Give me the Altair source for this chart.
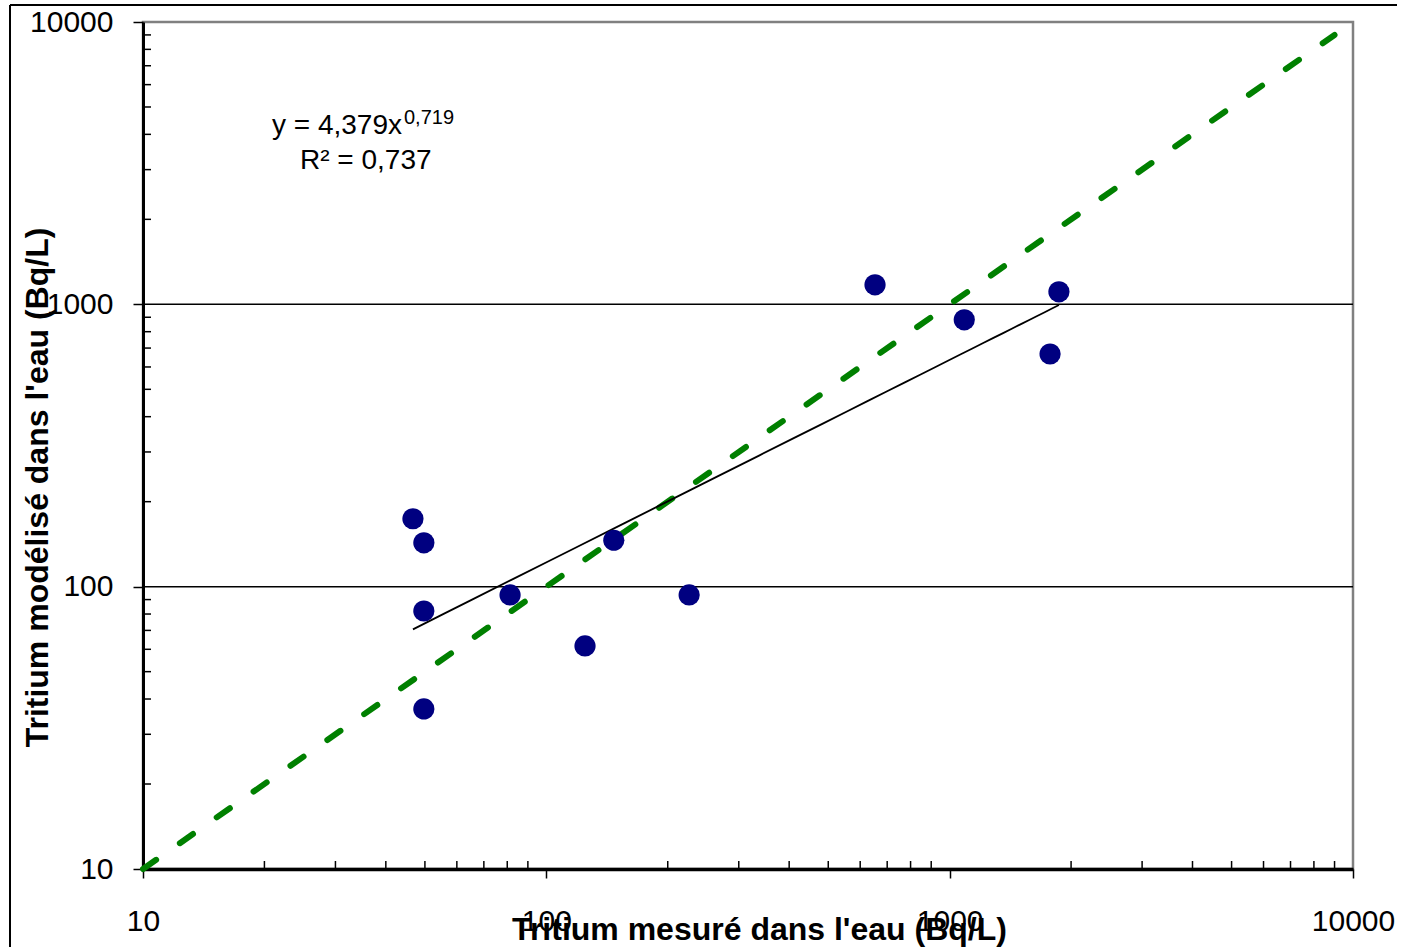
import altair as alt
import pandas as pd

# ---- data ----
measured = [46.7, 49.7, 49.7, 49.7, 81.3, 124.7, 147, 226, 653, 1087, 1866, 1774]
modeled = [174, 143, 82, 36.9, 93.5, 61.7, 146, 93.5, 1172, 881, 1107, 667]
one_to_one = [10, 9000]
grid_values = [100, 1000]
major_ticks = [10, 100, 1000, 10000]
minor_ticks = [20, 30, 40, 50, 60, 70, 80, 90,
               200, 300, 400, 500, 600, 700, 800, 900,
               2000, 3000, 4000, 5000, 6000, 7000, 8000, 9000]
equation_main = "y = 4,379x"
equation_exp = "0,719"
r2_text = "R² = 0,737"

W, H = 1210, 847
FONT = "Liberation Sans"

pts = pd.DataFrame({"measured": measured, "modeled": modeled})
diag = pd.DataFrame({"v": one_to_one})
grid = pd.DataFrame({"g": grid_values})
minor = pd.DataFrame({"m": minor_ticks})
single = pd.DataFrame({"one": [1]})

xscale = alt.Scale(type="log", domain=[10, 10000], nice=False)
yscale = alt.Scale(type="log", domain=[10, 10000], nice=False)

xaxis = alt.Axis(values=major_ticks, format="d", title="Tritium mesuré dans l'eau (Bq/L)",
                 grid=False, tickSize=9, tickWidth=1.5, tickColor="black",
                 domainColor="black", domainWidth=3.5, labelPadding=28,
                 labelFontSize=30, labelFont=FONT, labelColor="black",
                 labelOverlap=False, labelFlush=False,
                 titleFont=FONT, titleFontSize=32, titleFontWeight="bold", titleColor="black",
                 titleBaseline="alphabetic", titleY=70, titleX=616, titleAlign="center")
yaxis = alt.Axis(values=major_ticks, format="d", title="Tritium modélisé dans l'eau (Bq/L)",
                 grid=False, tickSize=10, tickWidth=1.5, tickColor="black",
                 domainColor="black", domainWidth=3, labelPadding=20,
                 labelFontSize=30, labelFont=FONT, labelColor="black",
                 labelOverlap=False, labelFlush=False,
                 titleFont=FONT, titleFontSize=32, titleFontWeight="bold", titleColor="black",
                 titleX=-106, titleY=465, titleAlign="center", titleBaseline="middle")


def X(field):
    return alt.X(f"{field}:Q", scale=xscale, axis=xaxis)


def Y(field):
    return alt.Y(f"{field}:Q", scale=yscale, axis=yaxis)


grid_layer = alt.Chart(grid).mark_rule(color="black", strokeWidth=1.5).encode(
    y=Y("g"), x=alt.value(0), x2=alt.value(W))

minor_x = alt.Chart(minor).mark_rule(color="black", strokeWidth=1.5).encode(
    x=X("m"), y=alt.value(H - 8), y2=alt.value(H))
minor_y = alt.Chart(minor).mark_rule(color="black", strokeWidth=1.5).encode(
    y=Y("m"), x=alt.value(0), x2=alt.value(8))

diag_layer = alt.Chart(diag).mark_line(color="#008000", strokeWidth=6, strokeDash=[16, 29],
                                      strokeCap="round").encode(x=X("v"), y=Y("v"))

reg_layer = alt.Chart(pts).transform_regression(
    "measured", "modeled", method="pow").mark_line(color="black", strokeWidth=1.8).encode(
    x=X("measured"), y=Y("modeled"))

pt_layer = alt.Chart(pts).mark_point(filled=True, color="#000080", size=450, opacity=1).encode(
    x=X("measured"), y=Y("modeled"))

eq1 = alt.Chart(single).mark_text(align="left", baseline="middle", font=FONT, fontSize=28,
                                  fontWeight="normal", color="black").encode(
    x=alt.value(129), y=alt.value(104), text=alt.value(equation_main))
eq2 = alt.Chart(single).mark_text(align="left", baseline="middle", font=FONT, fontSize=20,
                                  fontWeight="normal", color="black").encode(
    x=alt.value(261), y=alt.value(96), text=alt.value(equation_exp))
eq3 = alt.Chart(single).mark_text(align="left", baseline="middle", font=FONT, fontSize=28,
                                  fontWeight="normal", color="black").encode(
    x=alt.value(157), y=alt.value(139), text=alt.value(r2_text))

frame_left = alt.Chart(single).mark_rule(color="black", strokeWidth=2).encode(
    x=alt.value(-133), y=alt.value(-17), y2=alt.value(H + 78))
frame_top = alt.Chart(single).mark_rule(color="black", strokeWidth=2).encode(
    x=alt.value(-133), x2=alt.value(1254), y=alt.value(-17))

chart = alt.layer(
    grid_layer, minor_x, minor_y, diag_layer, reg_layer, pt_layer, eq1, eq2, eq3,
    frame_left, frame_top
).properties(
    width=W, height=H,
    autosize=alt.AutoSizeParams(type="none"),
    padding={"left": 143, "top": 22, "right": 55, "bottom": 78},
    background="white",
).configure_view(stroke="#808080", strokeWidth=2.5)

chart.save("out.html", embed_options={"renderer": "svg", "actions": False})
